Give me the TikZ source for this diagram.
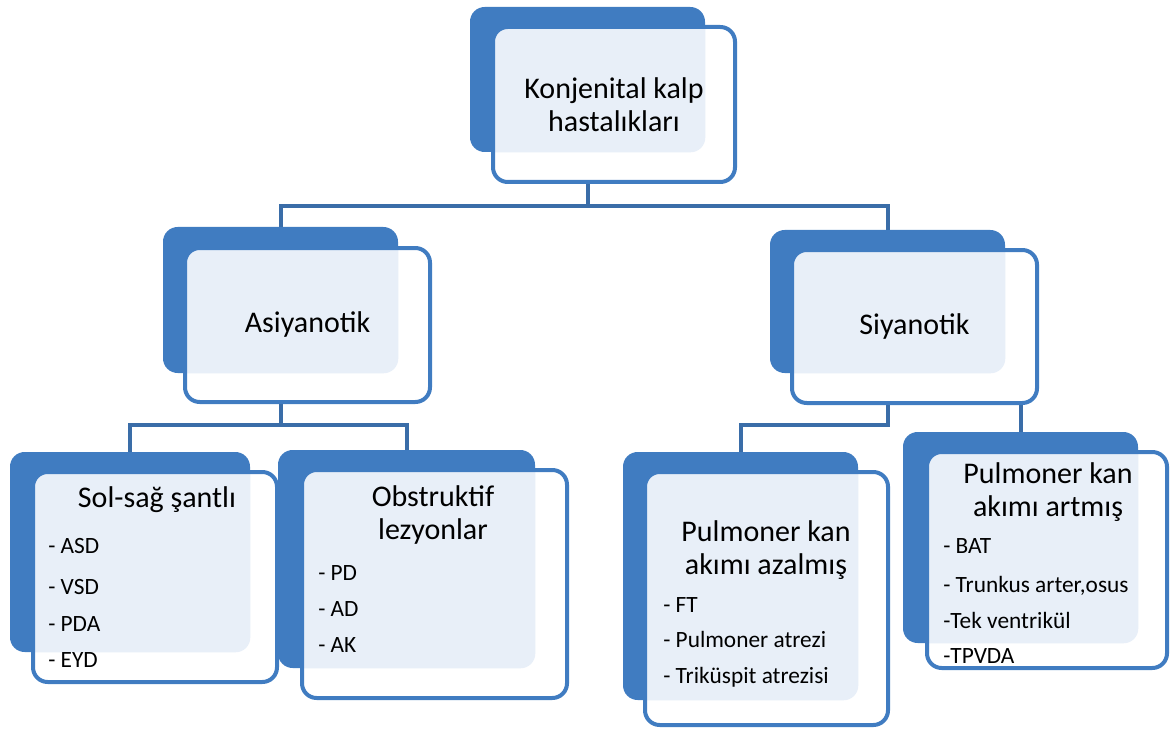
\documentclass[tikz,border=0pt]{standalone}
\usepackage{fontspec}
\setmainfont{Carlito}
\usetikzlibrary{backgrounds}

\definecolor{kblue}{RGB}{64,124,193}
\definecolor{klight}{RGB}{232,239,248}
\definecolor{kline}{RGB}{58,109,168}

\begin{document}
\begin{tikzpicture}[x=0.75pt, y=-0.75pt,
  backbox/.style 2 args={rectangle, fill=kblue, rounded corners=11pt,
    inner sep=0pt, minimum width=#1*0.75pt, minimum height=#2*0.75pt},
  frontbox/.style n args={3}{rectangle, draw=kblue, line width=3pt, fill=white,
    rounded corners=11pt, inner sep=0pt, align=center,
    minimum width=#1*0.75pt, minimum height=#2*0.75pt,
    font=\fontsize{22.5}{24.5}\selectfont,
    path picture={\fill[klight, rounded corners=11pt] (#3.south west) rectangle (#3.north east);}},
  titletext/.style={align=center, font=\fontsize{22.5}{24.5}\selectfont},
  itemtext/.style={anchor=base west, inner sep=0pt, font=\fontsize{17.5}{20}\selectfont},
  conn/.style={draw=kline, line width=3pt},
]
\useasboundingbox (0,0) rectangle (1171,731);

% ============================================================
% Level 0
% ============================================================
\node[backbox={235}{145}] (top-b) at (587.5,79.5) {};
\node[frontbox={242}{155}{top-b}] (top) at (614,104.5) {Konjenital kalp\\hastalıkları};

% ============================================================
% Level 1
% ============================================================
\node[backbox={235}{146}] (asi-b) at (280.5,300) {};
\node[frontbox={245}{154}{asi-b}] (asi) at (307.5,325) {Asiyanotik};

\node[backbox={235}{143}] (siy-b) at (887.5,301.5) {};
\node[frontbox={245}{153}{siy-b}] (siy) at (914.5,326.5) {Siyanotik};

% ============================================================
% Level 2: Asiyanotik
% ============================================================
\node[backbox={240}{200}] (sol-b) at (130,552) {};
\node[frontbox={244}{210}{sol-b}] (sol) at (155,577) {};
\node[titletext] (sol-t) at (157,500) {Sol-sağ şantlı};
\node[itemtext] (sol1) at (48,553) {- ASD};
\node[itemtext] (sol2) at (48,594) {- VSD};
\node[itemtext] (sol3) at (48,631) {- PDA};
\node[itemtext] (sol4) at (48,667) {- EYD};

\node[backbox={257}{218}] (obs-b) at (406.5,559) {};
\node[frontbox={265}{228}{obs-b}] (obs) at (434.5,584) {};
\node[titletext] (obs-t) at (433,515) {Obstruktif\\lezyonlar};
\node[itemtext] (obs1) at (318,580) {- PD};
\node[itemtext] (obs2) at (318,616) {- AD};
\node[itemtext] (obs3) at (318,652) {- AK};

% ============================================================
% Level 2: Siyanotik
% ============================================================
\node[backbox={235}{248}] (paz-b) at (740.5,576) {};
\node[frontbox={243}{253}{paz-b}] (paz) at (766.5,598.5) {};
\node[titletext] (paz-t) at (766,550) {Pulmoner kan\\akımı azalmış};
\node[itemtext] (paz1) at (663,612) {- FT};
\node[itemtext] (paz2) at (663,647) {- Pulmoner atrezi};
\node[itemtext] (paz3) at (663,683) {- Triküspit atrezisi};

\node[backbox={235}{211}] (par-b) at (1020.5,537.5) {};
\node[frontbox={240}{216}{par-b}] (par) at (1047,560) {};
\node[titletext] (par-t) at (1048,492) {Pulmoner kan\\akımı artmış};
\node[itemtext] (par1) at (943,553) {- BAT};
\node[itemtext] (par2) at (943,592) {- Trunkus arter,osus};
\node[itemtext] (par3) at (943,628) {-Tek ventrikül};
\node[itemtext] (par4) at (943,663) {-TPVDA};

% connectors behind the boxes
\begin{pgfonlayer}{background}
\draw[conn] (top-b.south) -- ++(0,54) -| (asi-b.north);
\draw[conn] (top-b.south) -- ++(0,54) -| (siy-b.north);
\draw[conn] (asi-b.south) -- ++(0,52) -| (sol-b.north);
\draw[conn] (asi-b.south) -- ++(0,52) -| (obs-b.north);
\draw[conn] (siy-b.south) -- ++(0,52) -| (paz-b.north);
\draw[conn] (siy-b.south) -- ++(0,30) -| (par-b.north);
\end{pgfonlayer}

\end{tikzpicture}
\end{document}
